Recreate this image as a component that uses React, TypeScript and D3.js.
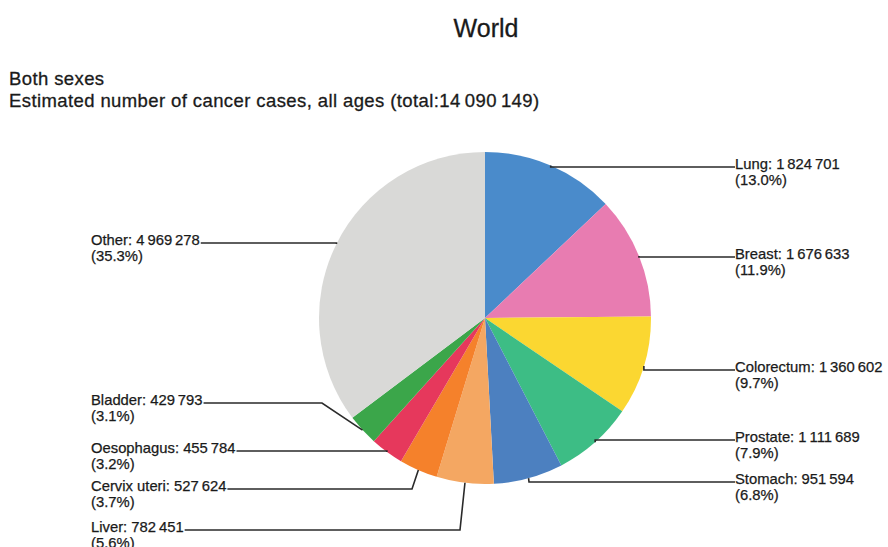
import React, { useEffect, useRef } from "react";
import * as d3 from "d3";

const categories = ["Lung", "Breast", "Colorectum", "Prostate", "Stomach", "Liver", "Cervix uteri", "Oesophagus", "Bladder", "Other"];
const cases = [1824701, 1676633, 1360602, 1111689, 951594, 782451, 527624, 455784, 429793, 4969278];
const colors = ["#4a8bcb", "#e87cb1", "#fbd731", "#3dbd85", "#4c80c0", "#f4a762", "#f5812b", "#e6385c", "#3ba64a", "#d9d9d7"];
// label layout: side, label line y, optional elbow x
const labelSide = ["right", "right", "right", "right", "right", "left", "left", "left", "left", "left"];
const labelY = [167, 257, 370, 440, 482, 530, 489, 451, 403, 243];
const elbowX: (number | null)[] = [null, null, null, null, 529, 460, 412, null, 322, null];

const W = 888, H = 547;
const cx = 485, cy = 318, R = 166;
const rightX = 735, leftX = 91;

export default function App() {
  const ref = useRef<SVGSVGElement>(null);
  useEffect(() => {
    const svg = d3.select(ref.current);
    svg.selectAll("*").remove();
    const total = d3.sum(cases);
    const fmt = (v: number) => d3.format(",")(v).replace(/,/g, "\u2009");
    const pct = d3.format(".1f");
    const ink = "#1a1a1a";

    svg.append("rect").attr("width", W).attr("height", H).attr("fill", "#fff");

    svg.append("text").attr("x", 486).attr("y", 37).attr("text-anchor", "middle")
      .attr("font-size", 25).attr("fill", ink).attr("stroke", ink).attr("stroke-width", 0.3).text("World");
    svg.append("text").attr("x", 9).attr("y", 85).attr("font-size", 18.5).attr("letter-spacing", 0.4)
      .attr("fill", ink).attr("stroke", ink).attr("stroke-width", 0.3).text("Both sexes");
    svg.append("text").attr("x", 9).attr("y", 107).attr("font-size", 18.5).attr("letter-spacing", 0.4)
      .attr("fill", ink).attr("stroke", ink).attr("stroke-width", 0.3)
      .text(`Estimated number of cancer cases, all ages (total:${fmt(total)})`);

    const data = categories.map((c, i) => ({ c, v: cases[i], i }));
    const pie = d3.pie<any>().value((d) => d.v).sort(null);
    const arcs = pie(data);
    const arc = d3.arc<any>().innerRadius(0).outerRadius(R);
    const g = svg.append("g").attr("transform", `translate(${cx},${cy})`);
    g.selectAll("path").data(arcs).join("path").attr("d", arc).attr("fill", (d) => colors[d.data.i]);

    arcs.forEach((a) => {
      const i = a.data.i;
      const mid = (a.startAngle + a.endAngle) / 2;
      const px = cx + R * Math.sin(mid);
      const py = cy - R * Math.cos(mid);
      const ly = labelY[i];
      const side = labelSide[i];
      const tx = side === "right" ? rightX : leftX;
      const t = svg.append("text").attr("x", tx).attr("y", ly + 2).attr("font-size", 14.8)
        .attr("fill", ink).attr("stroke", ink).attr("stroke-width", 0.25);
      t.append("tspan").attr("x", tx).text(`${categories[i]}: ${fmt(cases[i])}`);
      t.append("tspan").attr("x", tx).attr("dy", 16).text(`(${pct((cases[i] / total) * 100)}%)`);
      const pts: [number, number][] = [[px, py]];
      const ex = elbowX[i];
      if (ex !== null) pts.push([ex, ly]);
      if (side === "right") {
        if (ex === null) pts.push([px, ly]);
        pts.push([rightX, ly]);
      } else {
        const node = t.select("tspan").node() as SVGTextContentElement;
        const w = node.getComputedTextLength();
        if (ex === null) pts.push([px, ly]);
        pts.push([leftX + w + 1, ly]);
      }
      svg.append("path").attr("d", d3.line()(pts)).attr("fill", "none")
        .attr("stroke", "#2a2a2a").attr("stroke-width", 1.6);
    });
  }, []);
  return (
    <svg ref={ref} width={W} height={H}
      style={{ position: "absolute", left: 0, top: 0, fontFamily: "'Liberation Sans', Arial, sans-serif" }} />
  );
}
